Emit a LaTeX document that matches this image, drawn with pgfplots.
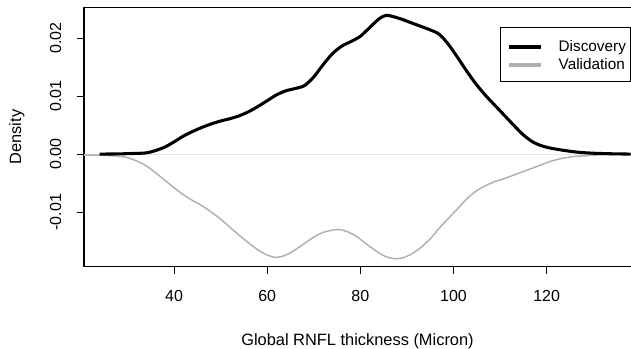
\documentclass[border=0pt]{standalone}
\usepackage{fontspec}
\setmainfont{Liberation Sans}
\usepackage{pgfplots}
\pgfplotsset{compat=1.18}
\definecolor{valgray}{HTML}{B0B0B0}
\definecolor{zerogray}{HTML}{E6E6E6}
\begin{document}
\begin{tikzpicture}
\useasboundingbox (-63pt,-61.75pt) rectangle (410.25pt,200pt);
\begin{axis}[
  at={(0,0)}, anchor=south west,
  scale only axis, width=410.25pt, height=194.55pt,
  xmin=20.67, xmax=138.1, ymin=-0.0194, ymax=0.0253,
  axis x line=box, axis y line=left,
  axis line style={-, line width=0.9pt},
  every outer y axis line/.append style={-},
  xtick={40,60,80,100,120}, xticklabels={40,60,80,100,120},
  ytick={-0.01,0,0.01,0.02}, yticklabels={-0.01,0.00,0.01,0.02},
  scaled y ticks=false, scaled x ticks=false,
  xtick pos=left, ytick pos=left,
  tick align=outside, major tick length=5.25pt,
  tick style={black, line width=0.75pt},
  font=\fontsize{12}{14}\selectfont,
  xticklabel style={yshift=-9.2pt},
  yticklabel style={rotate=90, anchor=south, yshift=8.3pt},
  xlabel={Global RNFL thickness (Micron)},
  ylabel={Density},
  xlabel style={at={(axis description cs:0.5,-0.289)}, anchor=center, font=\fontsize{12.3}{14}\selectfont},
  ylabel style={at={(axis description cs:-0.1225,0.5)}, anchor=center, rotate=0, font=\fontsize{12.3}{14}\selectfont},
  legend cell align=left,
  legend style={at={(0.7605,0.9252)}, anchor=north west, draw=black, line width=0.75pt,
    font=\fontsize{11.5}{13.5}\selectfont, inner xsep=1.5pt, inner ysep=6.8pt,
    row sep=-0.5pt, /tikz/every odd column/.append style={column sep=9.75pt}},
  legend image code/.code={\path (0pt,0pt); \draw[#1, line width=3pt] (4.8pt,-1.2pt) -- (28.5pt,-1.2pt);},
]
\addlegendimage{black}
\addlegendentry{\raisebox{-1.2pt}[\height][\depth]{Discovery}}
\addlegendimage{valgray}
\addlegendentry{\raisebox{-1.2pt}[\height][\depth]{Validation}}

\addplot[zerogray, line width=0.6pt, forget plot] coordinates {(20.67,0) (138.1,0)};

\addplot[valgray, line width=1.1pt, smooth, forget plot] coordinates {
(20.7,-0.0002) (24,-0.0002) (27,-0.0003) (30,-0.0006) (32,-0.0012) (34,-0.0020)
(36,-0.0032) (38,-0.0045) (40,-0.0058) (42,-0.0070) (44,-0.0080) (46,-0.0089)
(48,-0.0100) (50,-0.0112) (52,-0.0126) (54,-0.0140) (56,-0.0153) (58,-0.0165)
(60,-0.0174) (62,-0.0178) (64,-0.0174) (66,-0.0165) (68,-0.0154) (70,-0.0143)
(72,-0.0135) (74,-0.0131) (75.5,-0.0130) (77,-0.0133) (79,-0.0141) (81,-0.0153)
(83,-0.0165) (85,-0.0175) (87,-0.0180) (89,-0.0179) (91,-0.0172) (93,-0.0161)
(95,-0.0146) (97,-0.0127) (99,-0.0110) (101,-0.0093) (103,-0.0076) (105,-0.0063)
(107,-0.0054) (109,-0.0047) (111,-0.0042) (113,-0.0036) (115,-0.0030) (117,-0.0024)
(119,-0.0018) (121,-0.0012) (123,-0.0008) (125,-0.0005) (128,-0.0003) (132,-0.0001)
(138,0)
};

\addplot[black, line width=2.3pt, smooth, forget plot] coordinates {
(24,0) (28,0.00003) (31,0.0001) (34,0.0002) (36,0.0006) (38,0.0012) (40,0.0021)
(42,0.0031) (44,0.0039) (46,0.0046) (48,0.0052) (50,0.0057) (52,0.0061) (54,0.0066)
(56,0.0073) (58,0.0082) (60,0.0092) (62,0.0102) (64,0.0109) (66,0.0113) (68,0.0118)
(70,0.0133) (72,0.0154) (74,0.0173) (76,0.0186) (78,0.0194) (80,0.0203) (82,0.0218)
(84,0.0233) (85.5,0.0239) (87,0.0237) (89,0.0232) (91,0.0226) (93,0.0220) (95,0.0214)
(97,0.0206) (99,0.0188) (101,0.0165) (103,0.0141) (105,0.0119) (107,0.0100)
(109,0.0083) (111,0.0066) (113,0.0049) (115,0.0033) (117,0.0021) (119,0.0014)
(121,0.0010) (124,0.0006) (127,0.0003) (130,0.00015) (134,0.00005) (138,0)
};
\end{axis}
\end{tikzpicture}
\end{document}
